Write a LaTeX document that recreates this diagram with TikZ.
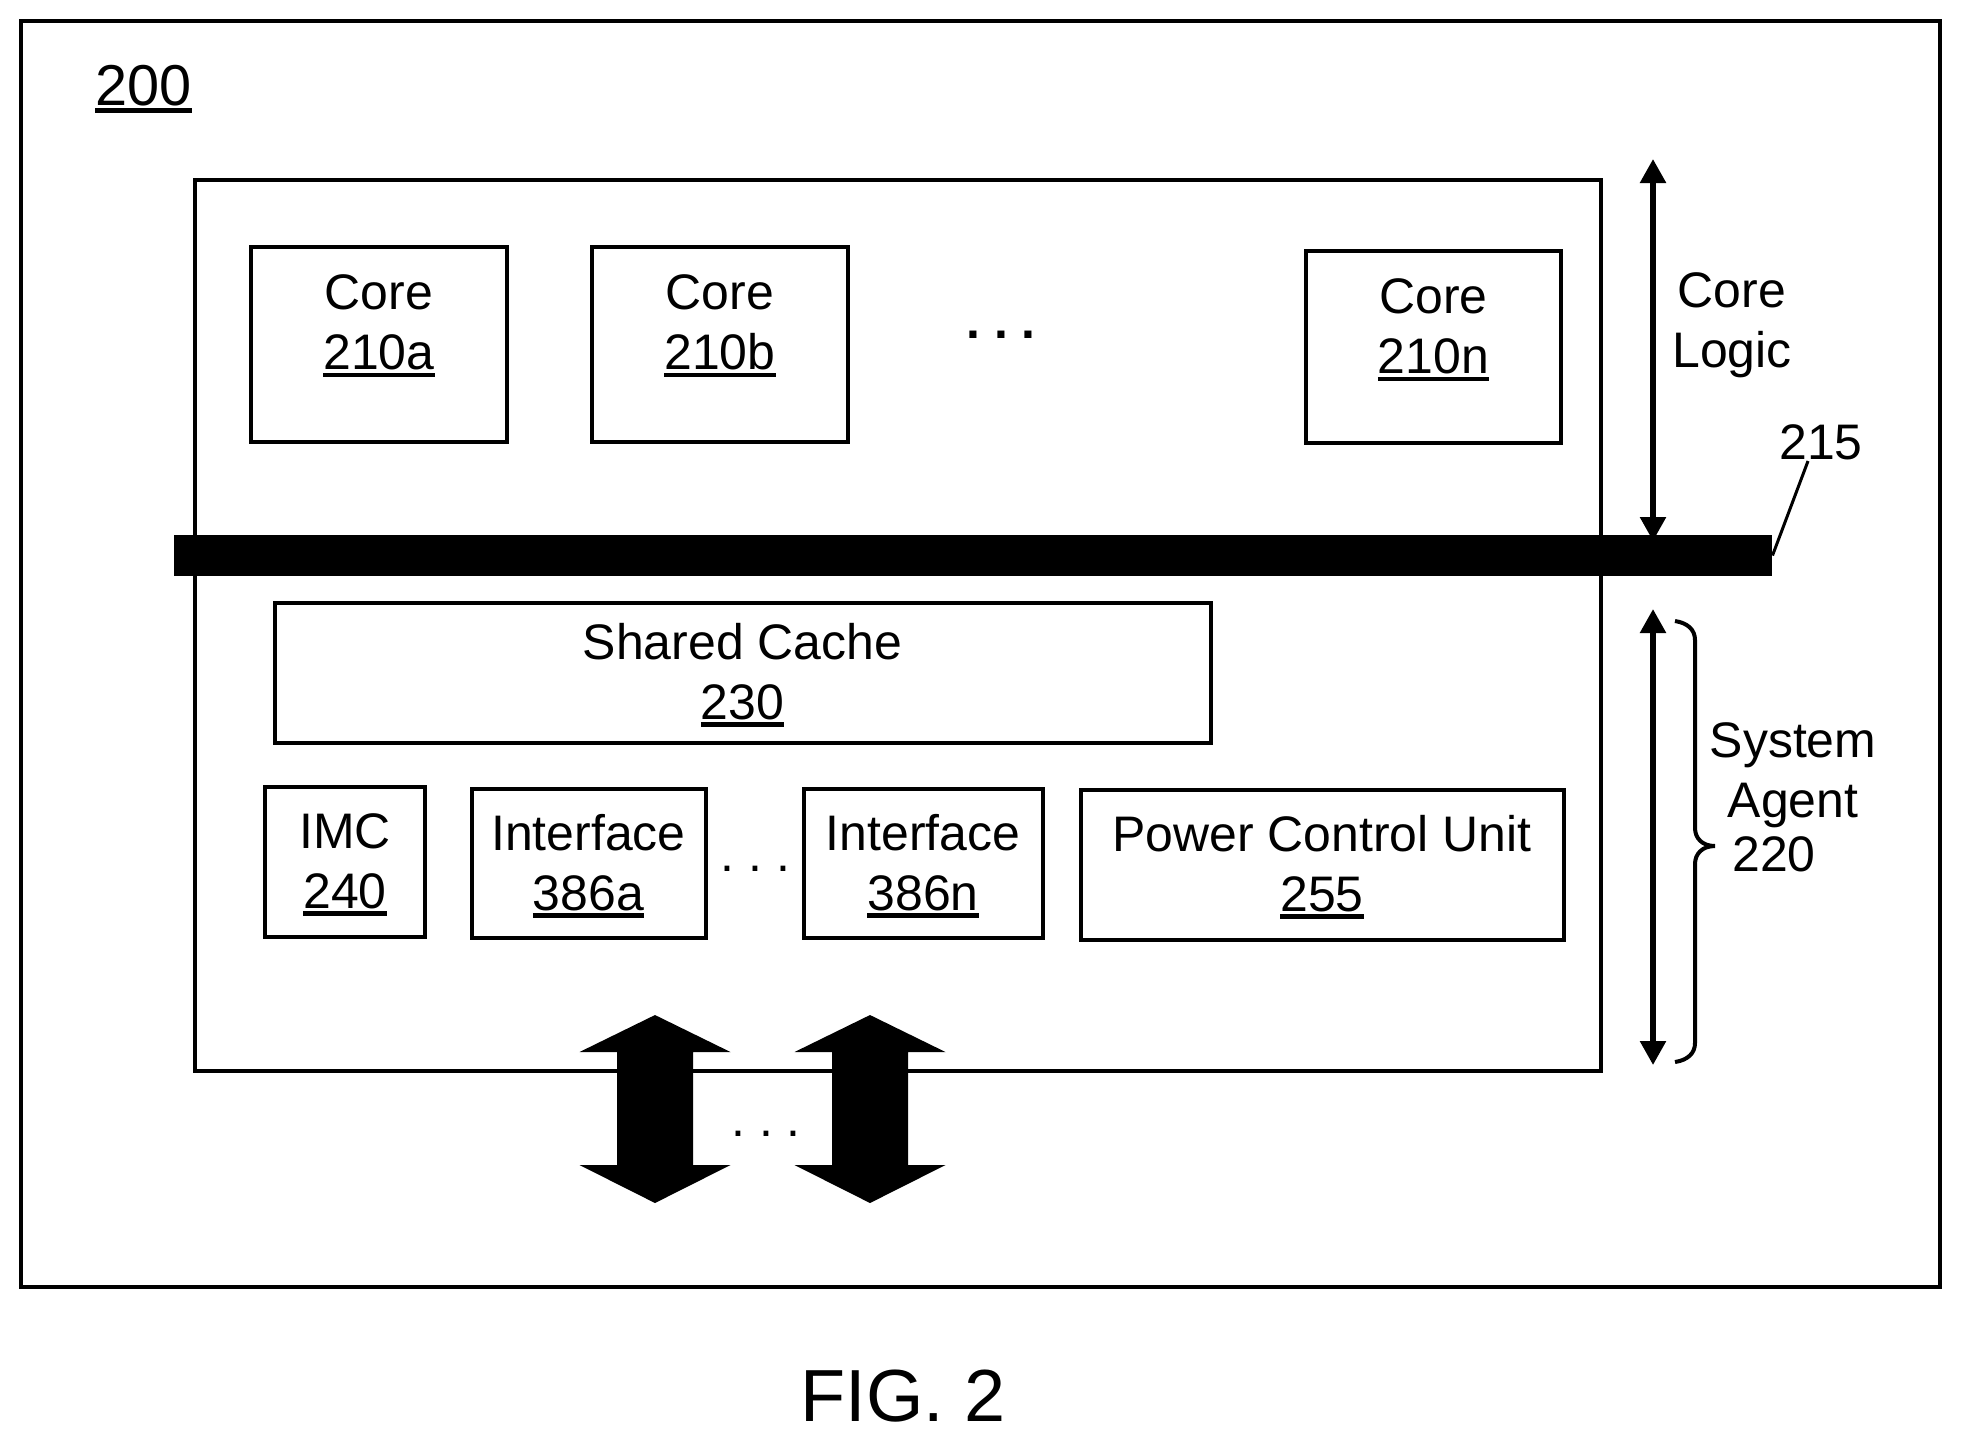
\documentclass[tikz,border=0pt]{standalone}
\usepackage{fontspec}
\setmainfont{Liberation Sans}
\usetikzlibrary{arrows.meta}
\newcommand{\refnum}[1]{\setbox0=\hbox{#1}\rlap{\rule[-2.2pt]{\wd0}{1.3pt}}\box0}
\tikzset{
  unitbox/.style={draw=black, line width=0.04cm, inner sep=0pt, outer sep=0pt},
  tag/.style={inner sep=0pt, outer sep=0pt, align=center, font=\fontsize{14.2}{17.07}\selectfont},
  dots/.style={inner sep=0pt, outer sep=0pt, font=\fontsize{14.2}{17.07}\selectfont\frenchspacing},
  bigtag/.style={inner sep=0pt, outer sep=0pt, font=\fontsize{16.4}{20}\selectfont},
  span/.style={line width=0.055cm, {Triangle[width=0.25cm,length=0.24cm]}-{Triangle[width=0.25cm,length=0.24cm]}},
}
\begin{document}
\begin{tikzpicture}[x=0.01cm,y=-0.01cm]
  \useasboundingbox (0,0) rectangle (1961,1444);
  \node[unitbox, minimum width=19.17cm, minimum height=12.655cm] (outerbox) at (980.5,654.25) {};
  \node[bigtag] (fignum) at (143.5,89) {\refnum{200}};
  \node[unitbox, minimum width=14.06cm, minimum height=8.905cm] (mainbox) at (898,625.75) {};
  % cores
  \node[unitbox, minimum width=2.56cm, minimum height=1.95cm] (corea) at (379,344.5) {};
  \node[unitbox, minimum width=2.56cm, minimum height=1.95cm] (coreb) at (720,344.5) {};
  \node[unitbox, minimum width=2.55cm, minimum height=1.92cm] (coren) at (1433.5,347) {};
  \node[tag] (coreatext) at (379,326) {Core\\\refnum{210a}};
  \node[tag] (corebtext) at (720,326) {Core\\\refnum{210b}};
  \node[tag] (corentext) at (1433.5,330) {Core\\\refnum{210n}};
  \node[dots, font=\fontsize{14.2}{17.07}\selectfont\frenchspacing\bfseries] (coredots) at (1001,334.5) {. . .};
  % bus
  \coordinate (coretop) at (1653,159);
  \coordinate (corebot) at (1653,541);
  \coordinate (agenttop) at (1653,609);
  \coordinate (agentbot) at (1653,1065);
  \draw[span] (coretop) -- (corebot);
  \draw[span] (agenttop) -- (agentbot);
  \node[fill=black, inner sep=0pt, outer sep=0pt, minimum width=15.98cm, minimum height=0.41cm] (bus) at (973,555.5) {};
  \node[tag] (busnum) at (1821,442) {215};
  \coordinate (busleader) at (1808,461);
  \draw[line width=0.03cm] (busleader) -- (bus.east);
  % lower units
  \node[unitbox, minimum width=9.36cm, minimum height=1.40cm] (cache) at (743,672.7) {};
  \node[tag] (cachetext) at (742.5,675) {Shared Cache\\\refnum{230}};
  \node[unitbox, minimum width=1.60cm, minimum height=1.506cm] (imc) at (345,862) {};
  \node[tag] (imctext) at (345,864.5) {IMC\\\refnum{240}};
  \node[unitbox, minimum width=2.346cm, minimum height=1.493cm] (ifa) at (589,863.3) {};
  \node[tag] (ifatext) at (588.5,866) {Interface\\\refnum{386a}};
  \node[dots] (ifdots) at (755.5,869) {. . .};
  \node[unitbox, minimum width=2.39cm, minimum height=1.496cm] (ifn) at (923.6,863.5) {};
  \node[tag] (ifntext) at (923,866) {Interface\\\refnum{386n}};
  \node[unitbox, minimum width=4.83cm, minimum height=1.50cm] (pcu) at (1322.5,865) {};
  \node[tag] (pcutext) at (1322,867) {Power Control Unit\\\refnum{255}};
  % big arrows
  \foreach \cx in {655,870}
    \fill[black] (\cx,1015) -- (\cx+75.5,1052) -- (\cx+38,1052) -- (\cx+38,1165) -- (\cx+75.5,1165)
      -- (\cx,1203) -- (\cx-75.5,1165) -- (\cx-38,1165) -- (\cx-38,1052) -- (\cx-75.5,1052) -- cycle;
  \node[dots] (portdots) at (766,1133.5) {. . .};
  % right side
  \node[tag] (corelogic) at (1732,325) {Core\\Logic};
  \draw[line width=0.04cm] (1675,621) .. controls (1688,623) and (1695,630) .. (1695,640)
    -- (1695,828) .. controls (1695,838) and (1702,846) .. (1715,846)
    .. controls (1702,846) and (1695,854) .. (1695,864)
    -- (1695,1043) .. controls (1695,1053) and (1688,1060) .. (1675,1062);
  \node[tag] (sysagent) at (1793,775) {System\\Agent};
  \node[tag] (sysagentnum) at (1774,854) {220};
  \node[inner sep=0pt, outer sep=0pt, font=\fontsize{21}{25}\selectfont] (figlabel) at (903,1396) {FIG. 2};
\end{tikzpicture}
\end{document}
